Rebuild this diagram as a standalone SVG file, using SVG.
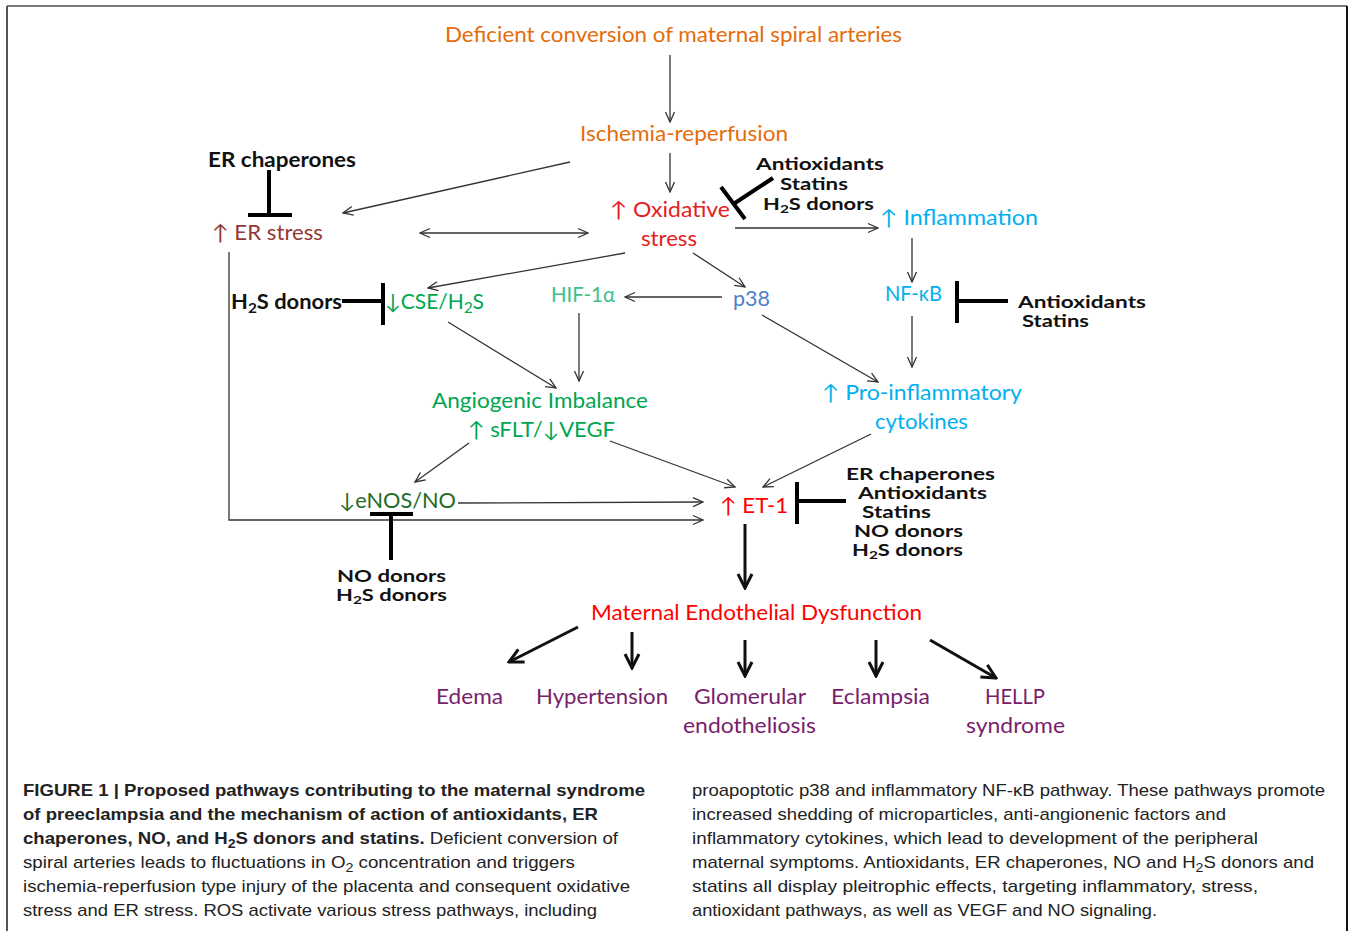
<svg xmlns="http://www.w3.org/2000/svg" width="1349" height="931" viewBox="0 0 1349 931">
<style>
.lb{font-family:Lato,"Noto Sans","DejaVu Sans",sans-serif;font-size:21px}
.bd{font-family:Lato,"Noto Sans","DejaVu Sans",sans-serif;font-size:17px;font-weight:700;fill:#111}
.bl{font-size:20px}
.cap{font-family:"Liberation Sans",Arial,sans-serif;font-size:17px;fill:#222}
.cb{font-weight:700}
.ln{fill:none;stroke:#333;stroke-width:1.3}
.th{fill:none;stroke:#111;stroke-width:3}
.tb{fill:none;stroke:#000;stroke-width:4}
.or{fill:#E46C0A}.er{fill:#953735}.ox{fill:#E3201E}.cy{fill:#00B0F0}.p3{fill:#4F7FC8}.hf{fill:#3CC08A}.gr{fill:#00A651}.dg{fill:#246B24}.rd{fill:#FF0000}.pu{fill:#7A1E6C}
</style>
<defs>
<marker id="a" viewBox="0 0 12 12" refX="11" refY="6" markerWidth="12" markerHeight="12" markerUnits="userSpaceOnUse" orient="auto-start-reverse"><path d="M1,1.5 L11,6 L1,10.5" fill="none" stroke="#333" stroke-width="1.3"/></marker>
<marker id="t" viewBox="0 0 18 18" refX="16" refY="9" markerWidth="18" markerHeight="18" markerUnits="userSpaceOnUse" orient="auto"><path d="M2,2 L16,9 L2,16" fill="none" stroke="#111" stroke-width="3"/></marker>
</defs>
<rect width="1349" height="931" fill="#fff"/>
<g id="frame">
<line x1="7" y1="6" x2="1347" y2="6" stroke="#7a7a7a" stroke-width="2"/>
<line x1="7" y1="6" x2="7" y2="931" stroke="#555" stroke-width="2"/>
<line x1="1347" y1="6" x2="1347" y2="931" stroke="#111" stroke-width="2"/>
</g>
<g id="connectors">
<line class="ln" x1="670" y1="55" x2="670" y2="122" marker-end="url(#a)"/>
<line class="ln" x1="670" y1="153" x2="670" y2="192" marker-end="url(#a)"/>
<line class="ln" x1="570" y1="162" x2="343" y2="213" marker-end="url(#a)"/>
<line class="ln" x1="420" y1="233" x2="588" y2="233" marker-start="url(#a)" marker-end="url(#a)"/>
<line class="ln" x1="625" y1="253" x2="428" y2="288" marker-end="url(#a)"/>
<line class="ln" x1="693" y1="253" x2="745" y2="287" marker-end="url(#a)"/>
<line class="ln" x1="735" y1="228" x2="878" y2="228" marker-end="url(#a)"/>
<line class="ln" x1="912" y1="238" x2="912" y2="282" marker-end="url(#a)"/>
<line class="ln" x1="912" y1="316" x2="912" y2="367" marker-end="url(#a)"/>
<line class="ln" x1="722" y1="297" x2="625" y2="297" marker-end="url(#a)"/>
<line class="ln" x1="579" y1="313" x2="579" y2="381" marker-end="url(#a)"/>
<line class="ln" x1="762" y1="315" x2="878" y2="382" marker-end="url(#a)"/>
<line class="ln" x1="448" y1="322" x2="556" y2="388" marker-end="url(#a)"/>
<line class="ln" x1="469" y1="443" x2="415" y2="482" marker-end="url(#a)"/>
<line class="ln" x1="458" y1="503" x2="703" y2="502" marker-end="url(#a)"/>
<polyline class="ln" points="229,252 229,520 703,520" marker-end="url(#a)"/>
<line class="ln" x1="610" y1="441" x2="735" y2="487" marker-end="url(#a)"/>
<line class="ln" x1="871" y1="434" x2="763" y2="487" marker-end="url(#a)"/>
<line class="th" x1="745" y1="524" x2="745" y2="588" marker-end="url(#t)"/>
<line class="th" x1="578" y1="627" x2="509" y2="662" marker-end="url(#t)"/>
<line class="th" x1="632" y1="632" x2="632" y2="668" marker-end="url(#t)"/>
<line class="th" x1="745" y1="640" x2="745" y2="676" marker-end="url(#t)"/>
<line class="th" x1="876" y1="640" x2="876" y2="676" marker-end="url(#t)"/>
<line class="th" x1="930" y1="640" x2="996" y2="678" marker-end="url(#t)"/>
<path class="tb" d="M269,170 V215 M248,215 H292"/>
<path class="tb" d="M773,178 L735,203 M721,187 L745,219"/>
<path class="tb" d="M1008,301 H957 M957,281 V323"/>
<path class="tb" d="M342,301 H383 M383,283 V325"/>
<path class="tb" d="M391,560 V514 M370,514 H413"/>
<path class="tb" d="M846,501 H797 M797,482 V524"/>
</g>
<g id="n-deficient"><text class="lb or" x="445" y="42" textLength="457" lengthAdjust="spacingAndGlyphs">Deficient conversion of maternal spiral arteries</text></g>
<g id="n-ischemia"><text class="lb or" x="580" y="141" textLength="208" lengthAdjust="spacingAndGlyphs">Ischemia-reperfusion</text></g>
<g id="n-erchap1"><text class="bd bl" x="208" y="167" textLength="148" lengthAdjust="spacingAndGlyphs">ER chaperones</text></g>
<g id="n-erstress"><text class="lb er" x="212" y="240" textLength="111" lengthAdjust="spacingAndGlyphs">↑ ER stress</text></g>
<g id="n-oxidative"><text class="lb ox" x="610" y="217" textLength="120" lengthAdjust="spacingAndGlyphs">↑ Oxidative</text><text class="lb ox" x="641" y="246" textLength="56" lengthAdjust="spacingAndGlyphs">stress</text></g>
<g id="n-inh1">
<text class="bd" x="756" y="170" textLength="128" lengthAdjust="spacingAndGlyphs">Antioxidants</text>
<text class="bd" x="780" y="190" textLength="68" lengthAdjust="spacingAndGlyphs">Statins</text>
<text class="bd" x="763" y="210" textLength="111" lengthAdjust="spacingAndGlyphs">H<tspan font-size="12" dy="3">2</tspan><tspan dy="-3">S donors</tspan></text>
</g>
<g id="n-inflammation"><text class="lb cy" x="880" y="225" textLength="158" lengthAdjust="spacingAndGlyphs">↑ Inflammation</text></g>
<g id="n-nfkb"><text class="lb cy" x="885" y="301" textLength="57" lengthAdjust="spacingAndGlyphs">NF-κB</text></g>
<g id="n-inh2">
<text class="bd" x="1018" y="308" textLength="128" lengthAdjust="spacingAndGlyphs">Antioxidants</text>
<text class="bd" x="1022" y="327" textLength="67" lengthAdjust="spacingAndGlyphs">Statins</text>
</g>
<g id="n-proinf"><text class="lb cy" x="822" y="400" textLength="200" lengthAdjust="spacingAndGlyphs">↑ Pro-inflammatory</text><text class="lb cy" x="875" y="429" textLength="93" lengthAdjust="spacingAndGlyphs">cytokines</text></g>
<g id="n-p38"><text class="lb p3" x="733" y="306" textLength="37" lengthAdjust="spacingAndGlyphs">p38</text></g>
<g id="n-hif"><text class="lb hf" x="551" y="302" textLength="64" lengthAdjust="spacingAndGlyphs">HIF-1α</text></g>
<g id="n-h2s"><text class="bd bl" x="231" y="309" textLength="111" lengthAdjust="spacingAndGlyphs">H<tspan font-size="14" dy="4">2</tspan><tspan dy="-4">S donors</tspan></text></g>
<g id="n-cse"><text class="lb gr" x="385" y="309" textLength="99" lengthAdjust="spacingAndGlyphs">↓CSE/H<tspan font-size="15" dy="4">2</tspan><tspan dy="-4">S</tspan></text></g>
<g id="n-angio"><text class="lb gr" x="432" y="408" textLength="216" lengthAdjust="spacingAndGlyphs">Angiogenic Imbalance</text><text class="lb gr" x="468" y="437" textLength="147" lengthAdjust="spacingAndGlyphs">↑ sFLT/↓VEGF</text></g>
<g id="n-enos"><text class="lb dg" x="339" y="508" textLength="117" lengthAdjust="spacingAndGlyphs">↓eNOS/NO</text></g>
<g id="n-inh3">
<text class="bd" x="337" y="582" textLength="109" lengthAdjust="spacingAndGlyphs">NO donors</text>
<text class="bd" x="336" y="601" textLength="111" lengthAdjust="spacingAndGlyphs">H<tspan font-size="12" dy="3">2</tspan><tspan dy="-3">S donors</tspan></text>
</g>
<g id="n-et1"><text class="lb rd" x="720" y="513" textLength="68" lengthAdjust="spacingAndGlyphs">↑ ET-1</text></g>
<g id="n-inh4">
<text class="bd" x="846" y="480" textLength="149" lengthAdjust="spacingAndGlyphs">ER chaperones</text>
<text class="bd" x="858" y="499" textLength="129" lengthAdjust="spacingAndGlyphs">Antioxidants</text>
<text class="bd" x="862" y="518" textLength="69" lengthAdjust="spacingAndGlyphs">Statins</text>
<text class="bd" x="854" y="537" textLength="109" lengthAdjust="spacingAndGlyphs">NO donors</text>
<text class="bd" x="852" y="556" textLength="111" lengthAdjust="spacingAndGlyphs">H<tspan font-size="12" dy="3">2</tspan><tspan dy="-3">S donors</tspan></text>
</g>
<g id="n-maternal"><text class="lb rd" x="591" y="620" textLength="331" lengthAdjust="spacingAndGlyphs">Maternal Endothelial Dysfunction</text></g>
<g id="n-edema"><text class="lb pu" x="436" y="704" textLength="67" lengthAdjust="spacingAndGlyphs">Edema</text></g>
<g id="n-hyper"><text class="lb pu" x="536" y="704" textLength="132" lengthAdjust="spacingAndGlyphs">Hypertension</text></g>
<g id="n-glom"><text class="lb pu" x="694" y="704" textLength="112" lengthAdjust="spacingAndGlyphs">Glomerular</text><text class="lb pu" x="683" y="733" textLength="133" lengthAdjust="spacingAndGlyphs">endotheliosis</text></g>
<g id="n-eclampsia"><text class="lb pu" x="831" y="704" textLength="99" lengthAdjust="spacingAndGlyphs">Eclampsia</text></g>
<g id="n-hellp"><text class="lb pu" x="985" y="704" textLength="60" lengthAdjust="spacingAndGlyphs">HELLP</text><text class="lb pu" x="966" y="733" textLength="99" lengthAdjust="spacingAndGlyphs">syndrome</text></g>
<g id="caption">
<text class="cap cb" x="23" y="796" textLength="622" lengthAdjust="spacingAndGlyphs">FIGURE 1 | Proposed pathways contributing to the maternal syndrome</text>
<text class="cap cb" x="23" y="820" textLength="575" lengthAdjust="spacingAndGlyphs">of preeclampsia and the mechanism of action of antioxidants, ER</text>
<text class="cap" x="23" y="844" textLength="595" lengthAdjust="spacingAndGlyphs"><tspan class="cb">chaperones, NO, and H</tspan><tspan class="cb" font-size="13" dy="4">2</tspan><tspan class="cb" dy="-4">S donors and statins.</tspan> Deficient conversion of</text>
<text class="cap" x="23" y="868" textLength="552" lengthAdjust="spacingAndGlyphs">spiral arteries leads to fluctuations in O<tspan font-size="13" dy="4">2</tspan><tspan dy="-4"> concentration and triggers</tspan></text>
<text class="cap" x="23" y="892" textLength="607" lengthAdjust="spacingAndGlyphs">ischemia-reperfusion type injury of the placenta and consequent oxidative</text>
<text class="cap" x="23" y="916" textLength="574" lengthAdjust="spacingAndGlyphs">stress and ER stress. ROS activate various stress pathways, including</text>
<text class="cap" x="692" y="796" textLength="633" lengthAdjust="spacingAndGlyphs">proapoptotic p38 and inflammatory NF-κB pathway. These pathways promote</text>
<text class="cap" x="692" y="820" textLength="534" lengthAdjust="spacingAndGlyphs">increased shedding of microparticles, anti-angionenic factors and</text>
<text class="cap" x="692" y="844" textLength="566" lengthAdjust="spacingAndGlyphs">inflammatory cytokines, which lead to development of the peripheral</text>
<text class="cap" x="692" y="868" textLength="622" lengthAdjust="spacingAndGlyphs">maternal symptoms. Antioxidants, ER chaperones, NO and H<tspan font-size="13" dy="4">2</tspan><tspan dy="-4">S donors and</tspan></text>
<text class="cap" x="692" y="892" textLength="566" lengthAdjust="spacingAndGlyphs">statins all display pleitrophic effects, targeting inflammatory, stress,</text>
<text class="cap" x="692" y="916" textLength="465" lengthAdjust="spacingAndGlyphs">antioxidant pathways, as well as VEGF and NO signaling.</text>
</g>
</svg>
